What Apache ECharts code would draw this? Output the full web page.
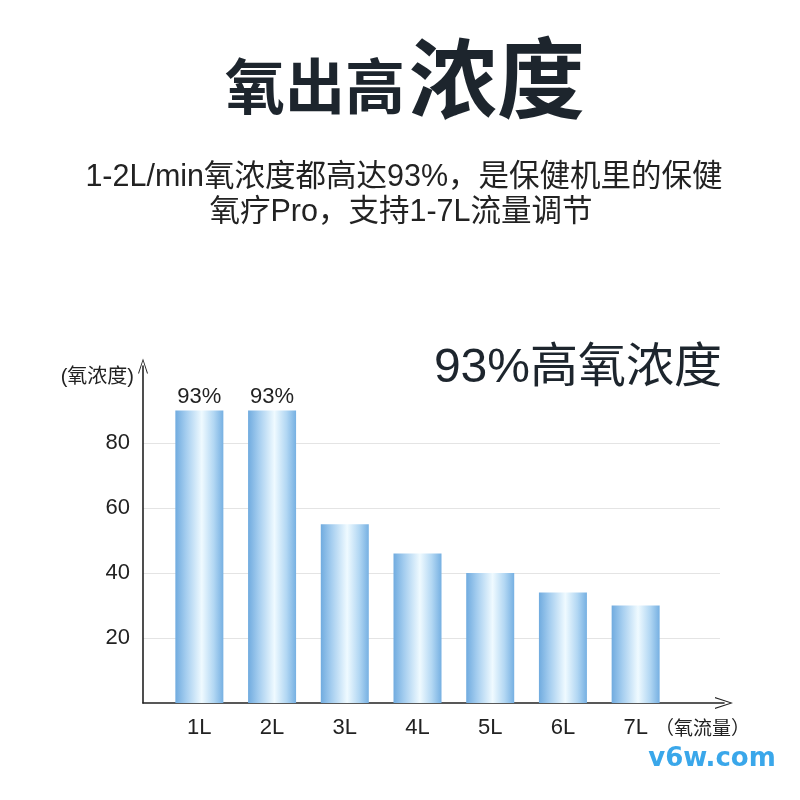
<!DOCTYPE html>
<html>
<head>
<meta charset="utf-8">
<script src="https://cdn.jsdelivr.net/npm/echarts@6/dist/echarts.min.js"></script>
<style>html,body{margin:0;padding:0;background:#fff;}#c{width:800px;height:800px;}</style>
</head>
<body>
<div id="c"></div>
<script>
const categories = ['1L', '2L', '3L', '4L', '5L', '6L', '7L'];
const concentration = [90, 90, 55, 46, 40, 34, 30];
const barLabels = ['93%', '93%', '', '', '', '', ''];

const FONT = '"Liberation Sans", "Noto Sans CJK SC", sans-serif';
const DARK = '#1d252d';
const chart = echarts.init(document.getElementById('c'), null, {renderer: 'canvas'});

const openArrow = 'path://M0,15 L5,0 L10,15 L9,15 L5,2.5 L1,15 Z';

const option = {
  backgroundColor: '#ffffff',
  animation: false,
  textStyle: {fontFamily: FONT},
  grid: [
    {left: 143, right: 76, top: 366, bottom: 97},
    {left: 143, right: 80, top: 378, bottom: 97},
    {left: 163, right: 128, top: 378, bottom: 97}
  ],
  xAxis: [
    {gridIndex: 0, type: 'value', min: 0, max: 1, axisLabel: {show: false}, axisTick: {show: false}, splitLine: {show: false},
     axisLine: {show: true, symbol: ['none', openArrow], symbolSize: [12, 22], lineStyle: {color: '#222', width: 1.6}}},
    {gridIndex: 1, type: 'value', min: 0, max: 1, show: false},
    {gridIndex: 2, type: 'category', data: categories, axisLine: {show: false}, axisTick: {show: false},
     axisLabel: {color: '#222', fontSize: 22, margin: 14, fontFamily: FONT}}
  ],
  yAxis: [
    {gridIndex: 0, type: 'value', min: 0, max: 1, axisLabel: {show: false}, axisTick: {show: false}, splitLine: {show: false},
     axisLine: {show: true, symbol: ['none', openArrow], symbolSize: [11, 15], lineStyle: {color: '#222', width: 1.6}}},
    {gridIndex: 1, type: 'value', min: 0, max: 100, interval: 20, axisLine: {show: false}, axisTick: {show: false},
     axisLabel: {color: '#222', fontSize: 22, margin: 13, showMinLabel: false, showMaxLabel: false, fontFamily: FONT},
     splitLine: {show: true, showMinLine: false, showMaxLine: false, lineStyle: {color: '#e4e4e4', width: 1.2}}},
    {gridIndex: 2, type: 'value', min: 0, max: 100, show: false}
  ],
  series: [{
    type: 'bar',
    xAxisIndex: 2,
    yAxisIndex: 2,
    data: concentration,
    barWidth: 48,
    itemStyle: {
      color: new echarts.graphic.LinearGradient(0, 0, 1, 0, [
        {offset: 0, color: '#70abdf'},
        {offset: 0.22, color: '#a4cdef'},
        {offset: 0.55, color: '#effaff'},
        {offset: 0.8, color: '#b2d7f3'},
        {offset: 1, color: '#76b0e2'}
      ])
    },
    label: {
      show: true, position: 'top', distance: 3, color: '#222', fontSize: 22, fontFamily: FONT,
      formatter: p => barLabels[p.dataIndex]
    }
  }],
  graphic: [
    {type: 'text', style: {text: '氧出高', x: 405, y: 86, textAlign: 'right', textVerticalAlign: 'middle',
      font: 'bold 60px "Noto Sans CJK SC"', fill: DARK}},
    {type: 'text', style: {text: '浓度', x: 409, y: 78, textAlign: 'left', textVerticalAlign: 'middle',
      font: 'bold 88px "Noto Sans CJK SC"', fill: DARK}},
    {type: 'text', style: {text: '1-2L/min氧浓度都高达93%，是保健机里的保健', x: 404, y: 178, textAlign: 'center', textVerticalAlign: 'middle',
      font: '30.5px "Liberation Sans", "Noto Sans CJK SC"', fill: '#222'}},
    {type: 'text', style: {text: '氧疗Pro，支持1-7L流量调节', x: 401, y: 213, textAlign: 'center', textVerticalAlign: 'middle',
      font: '30.5px "Liberation Sans", "Noto Sans CJK SC"', fill: '#222'}},
    {type: 'text', style: {text: '93%高氧浓度', x: 722, y: 369, textAlign: 'right', textVerticalAlign: 'middle',
      font: '48px "Liberation Sans", "Noto Sans CJK SC"', fill: DARK}},
    {type: 'text', style: {text: '(氧浓度)', x: 134, y: 377, textAlign: 'right', textVerticalAlign: 'middle',
      font: '20px "Liberation Sans", "Noto Sans CJK SC"', fill: '#222'}},
    {type: 'text', style: {text: '（氧流量）', x: 655, y: 728, textAlign: 'left', textVerticalAlign: 'middle',
      font: '19px "Noto Sans CJK SC"', fill: '#222'}},
    {type: 'text', style: {text: 'v6w.com', x: 712, y: 759, textAlign: 'center', textVerticalAlign: 'middle',
      font: 'bold 26px "DejaVu Sans", sans-serif', fill: '#3aa7ea'}}
  ]
};
chart.setOption(option);
</script>
</body>
</html>
